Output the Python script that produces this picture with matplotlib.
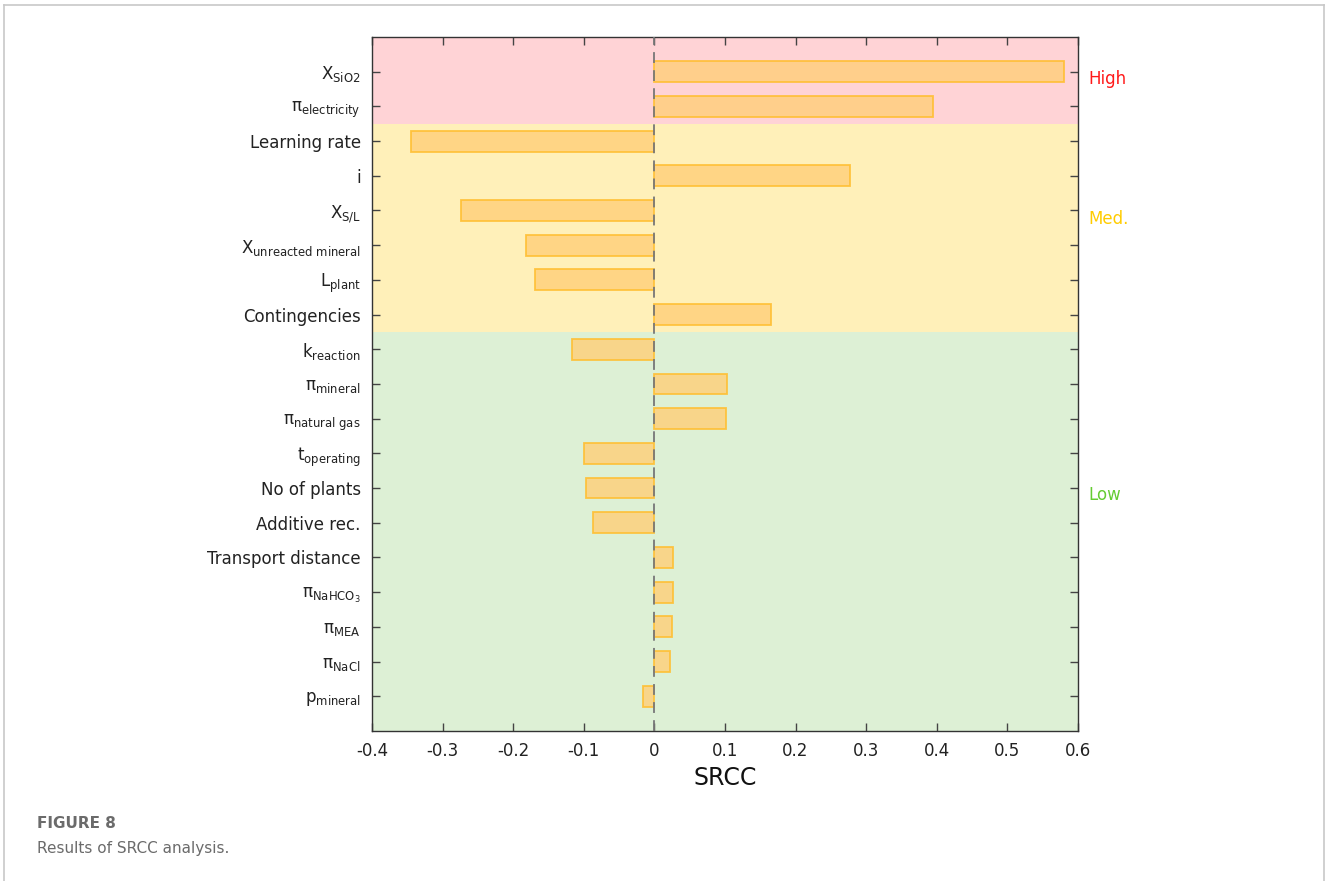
import matplotlib.pyplot as plt
import numpy as np

plt.rcParams['font.family'] = 'DejaVu Sans'
plt.rcParams['mathtext.default'] = 'regular'

# parameters, top to bottom
params = [r'X$_{SiO2}$', r'π$_{electricity}$', 'Learning rate', 'i', r'X$_{S/L}$',
          r'X$_{unreacted\ mineral}$', r'L$_{plant}$', 'Contingencies', r'k$_{reaction}$',
          r'π$_{mineral}$', r'π$_{natural\ gas}$', r't$_{operating}$', 'No of plants',
          'Additive rec.', 'Transport distance', r'π$_{NaHCO_3}$', r'π$_{MEA}$',
          r'π$_{NaCl}$', r'p$_{mineral}$']
srcc = [0.580, 0.395, -0.345, 0.277, -0.274, -0.182, -0.169, 0.165, -0.117,
        0.103, 0.101, -0.100, -0.097, -0.087, 0.026, 0.026, 0.025, 0.022, -0.016]

# sensitivity groups: (name, first row, last row, colour of band, colour of text, label y)
groups = [('High', 1, 2, '#ffd3d6', '#ff1a1a', 1.2),
          ('Med.', 3, 8, '#fff0b9', '#ffcc00', 5.25),
          ('Low', 9, 19, '#ddf0d5', '#66cc33', 13.2)]

fig = plt.figure(figsize=(13.28, 8.81), dpi=100)
ax = fig.add_axes([0.2801, 0.1703, 0.5316, 0.7877])

y = np.arange(1, len(params) + 1)

for name, first, last, band, tcol, ty in groups:
    hi = 20 if last == len(params) else last + 0.5
    lo = 0 if first == 1 else first - 0.5
    ax.axhspan(lo, hi, color=band, lw=0, zorder=0)
    ax.text(1.015, ty, name, color=tcol, fontsize=12, va='center', ha='left',
            transform=ax.get_yaxis_transform())

ax.barh(y, srcc, height=0.6, color=(1.0, 0.81, 0.47, 0.8),
        edgecolor=(1.0, 0.75, 0.2, 0.9), linewidth=1.3, zorder=2)
ax.axvline(0, color='#777777', lw=1.3, ls=(0, (6, 4)), zorder=3)

ax.set_xlim(-0.4, 0.6)
ax.set_ylim(20, 0)
ax.set_xticks(np.arange(-0.4, 0.61, 0.1))
ax.set_xticklabels(['-0.4', '-0.3', '-0.2', '-0.1', '0', '0.1', '0.2', '0.3', '0.4', '0.5', '0.6'])
ax.set_yticks(y)
ax.set_yticklabels(params)
ax.tick_params(direction='in', length=6, width=1, color='#444444', top=True, right=True,
               labelsize=12, labelcolor='#222222')
ax.tick_params(axis='x', pad=8)
ax.tick_params(axis='y', pad=8)
for s in ax.spines.values():
    s.set_color('#333333')
    s.set_linewidth(1)
ax.set_xlabel('SRCC', fontsize=17, color='#111111', labelpad=4)

# caption
fig.text(37 / 1328, 1 - 823 / 881, 'FIGURE 8', fontsize=11, fontweight='bold',
         color='#6b6b6b', va='center')
fig.text(37 / 1328, 1 - 848 / 881, 'Results of SRCC analysis.', fontsize=11,
         color='#6b6b6b', va='center')

# page frame
frame = dict(color='#c8c8c8', lw=1.2, transform=fig.transFigure)
fig.add_artist(plt.Line2D([4 / 1328, 4 / 1328], [0, 1 - 5 / 881], **frame))
fig.add_artist(plt.Line2D([4 / 1328, 1324 / 1328], [1 - 5 / 881, 1 - 5 / 881], **frame))
fig.add_artist(plt.Line2D([1324 / 1328, 1324 / 1328], [0, 1 - 5 / 881], **frame))

fig.savefig('out.png', dpi=100)
